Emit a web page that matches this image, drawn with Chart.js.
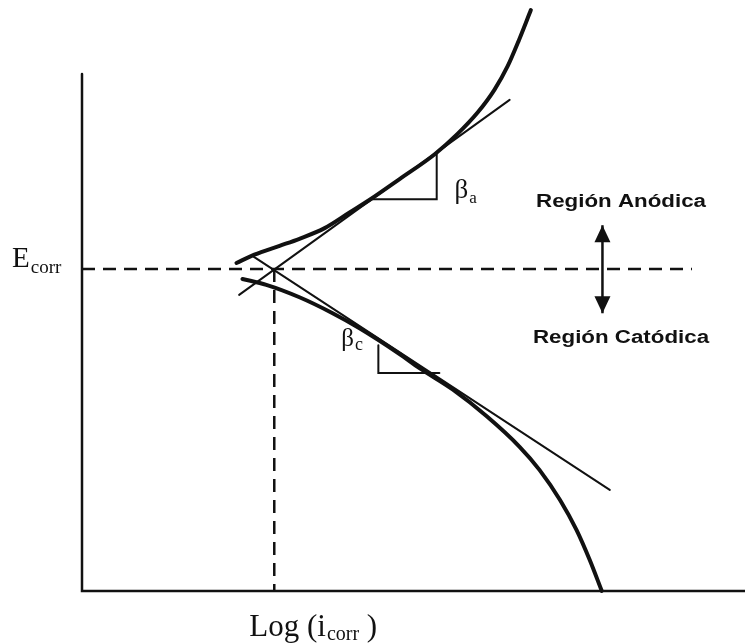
<!DOCTYPE html>
<html>
<head>
<meta charset="utf-8">
<script src="https://cdn.jsdelivr.net/npm/chart.js@4.4.1/dist/chart.umd.min.js"></script>
<style>
  html, body { margin: 0; padding: 0; background: #fff; }
  #wrap { width: 745px; height: 643px; }
</style>
</head>
<body>
<div id="wrap"><canvas id="tafelChart" width="745" height="643"></canvas></div>
<script>
// Datos (unidades arbitrarias: log i en x, potencial E en y)
const anodicLogI = [2.33, 2.60, 2.98, 3.28, 3.66, 4.03, 4.34, 4.79, 5.32, 5.66, 5.97, 6.22, 6.42, 6.59, 6.77];
const anodicE    = [5.55, 5.69, 5.84, 5.96, 6.14, 6.40, 6.62, 6.97, 7.39, 7.73, 8.10, 8.48, 8.88, 9.32, 9.83];

const cathodicLogI = [2.42, 2.78, 3.28, 3.78, 4.18, 4.79, 5.09, 5.59, 6.10, 6.60, 6.90, 7.21, 7.46, 7.66, 7.84];
const cathodicE    = [5.28, 5.18, 4.97, 4.70, 4.45, 4.01, 3.77, 3.41, 2.96, 2.44, 2.05, 1.54, 1.03, 0.52, 0.00];

// Rectas de Tafel
const anodicTangentLogI = [2.37, 6.45];
const anodicTangentE    = [5.01, 8.31];
const cathodicTangentLogI = [2.57, 7.96];
const cathodicTangentE    = [5.67, 1.71];

const Ecorr = 5.45;
const logIcorr = 2.90;

// Triangulos de pendiente
const betaALogI = [4.37, 5.35, 5.35];
const betaAE    = [6.63, 6.63, 7.39];
const betaCLogI = [4.47, 4.47, 5.39];
const betaCE    = [4.16, 3.69, 3.69];

// Flecha entre regiones
const arrowLogI = [7.85, 7.85];
const arrowE    = [6.19, 4.70];

// Ejes
const axisLogI = [0, 0, 10];
const axisE    = [8.75, 0, 0];

const regionLabels = ['Región Anódica', 'Región Catódica'];
const regionLabelLogI = [8.13, 8.13];
const regionLabelE = [6.50, 4.20];

function pts(xs, ys) {
    return xs.map(function (x, i) { return { x: x, y: ys[i] }; });
}

function lineSet(xs, ys, width, extra) {
    return Object.assign({
        data: pts(xs, ys),
        showLine: true,
        borderColor: '#111',
        borderWidth: width,
        pointRadius: 0,
        fill: false,
        clip: false,
        borderCapStyle: 'round',
        borderJoinStyle: 'miter'
    }, extra || {});
}

// Subindice: texto base + texto pequeño
function drawSub(ctx, x, y, main, sub, mainSize, subSize, subDrop, after) {
    ctx.font = mainSize + 'px "Liberation Serif", serif';
    ctx.fillText(main, x, y);
    var w = ctx.measureText(main).width;
    ctx.font = subSize + 'px "Liberation Serif", serif';
    ctx.fillText(sub, x + w + 1, y + subDrop);
    if (after) {
        var w2 = ctx.measureText(sub).width;
        ctx.font = mainSize + 'px "Liberation Serif", serif';
        ctx.fillText(after, x + w + 1 + w2, y);
    }
}

const annotations = {
    id: 'annotations',
    afterDatasetsDraw: function (chart) {
        var ctx = chart.ctx;
        var xs = chart.scales.x, ys = chart.scales.y;
        ctx.save();
        ctx.fillStyle = '#111';
        ctx.textBaseline = 'alphabetic';

        // Puntas de la flecha
        var ax = xs.getPixelForValue(arrowLogI[0]);
        [[arrowE[0], -1], [arrowE[1], 1]].forEach(function (a) {
            var ty = ys.getPixelForValue(a[0]);
            ctx.beginPath();
            ctx.moveTo(ax, ty);
            ctx.lineTo(ax - 8, ty - a[1] * 17);
            ctx.lineTo(ax + 8, ty - a[1] * 17);
            ctx.closePath();
            ctx.fill();
        });

        // Etiquetas de región
        ctx.font = 'bold 18px "Liberation Sans", Arial, sans-serif';
        ctx.textAlign = 'center';
        regionLabels.forEach(function (t, i) {
            ctx.save();
            ctx.translate(xs.getPixelForValue(regionLabelLogI[i]), ys.getPixelForValue(regionLabelE[i]));
            ctx.scale(1.24, 1);
            ctx.fillText(t, 0, 0);
            ctx.restore();
        });
        ctx.textAlign = 'left';

        // Pendientes
        drawSub(ctx, xs.getPixelForValue(5.62), ys.getPixelForValue(6.65), 'β', 'a', 27, 17, 5);
        drawSub(ctx, xs.getPixelForValue(3.91), ys.getPixelForValue(4.15), 'β', 'c', 25, 18, 4);

        // E corr a la izquierda del eje
        drawSub(ctx, 12, ys.getPixelForValue(Ecorr) - 2, 'E', 'corr', 29, 19, 6);

        // Titulo del eje x
        drawSub(ctx, xs.getPixelForValue(logIcorr) - 25, chart.chartArea.bottom + 45, 'Log (i', 'corr', 31, 20, 4, ' )');

        ctx.restore();
    }
};

new Chart(document.getElementById('tafelChart').getContext('2d'), {
    type: 'scatter',
    data: {
        datasets: [
            lineSet(axisLogI, axisE, 2.5),
            lineSet([0, 9.2], [Ecorr, Ecorr], 2.5, { borderDash: [13, 8], borderCapStyle: 'butt' }),
            lineSet([logIcorr, logIcorr], [Ecorr, 0], 2.5, { borderDash: [13, 8], borderCapStyle: 'butt' }),
            lineSet(anodicTangentLogI, anodicTangentE, 2),
            lineSet(cathodicTangentLogI, cathodicTangentE, 2),
            lineSet(anodicLogI, anodicE, 4, { cubicInterpolationMode: 'monotone' }),
            lineSet(cathodicLogI, cathodicE, 4, { cubicInterpolationMode: 'monotone' }),
            lineSet(betaALogI, betaAE, 2),
            lineSet(betaCLogI, betaCE, 2),
            lineSet(arrowLogI, arrowE, 2.5, { borderCapStyle: 'butt' })
        ]
    },
    options: {
        responsive: false,
        animation: false,
        events: [],
        layout: { padding: { left: 82, right: 0, top: 0, bottom: 52 } },
        scales: {
            x: { type: 'linear', display: false, min: 0, max: 10 },
            y: { type: 'linear', display: false, min: 0, max: 10 }
        },
        plugins: {
            legend: { display: false },
            tooltip: { enabled: false }
        }
    },
    plugins: [annotations]
});
</script>
</body>
</html>
